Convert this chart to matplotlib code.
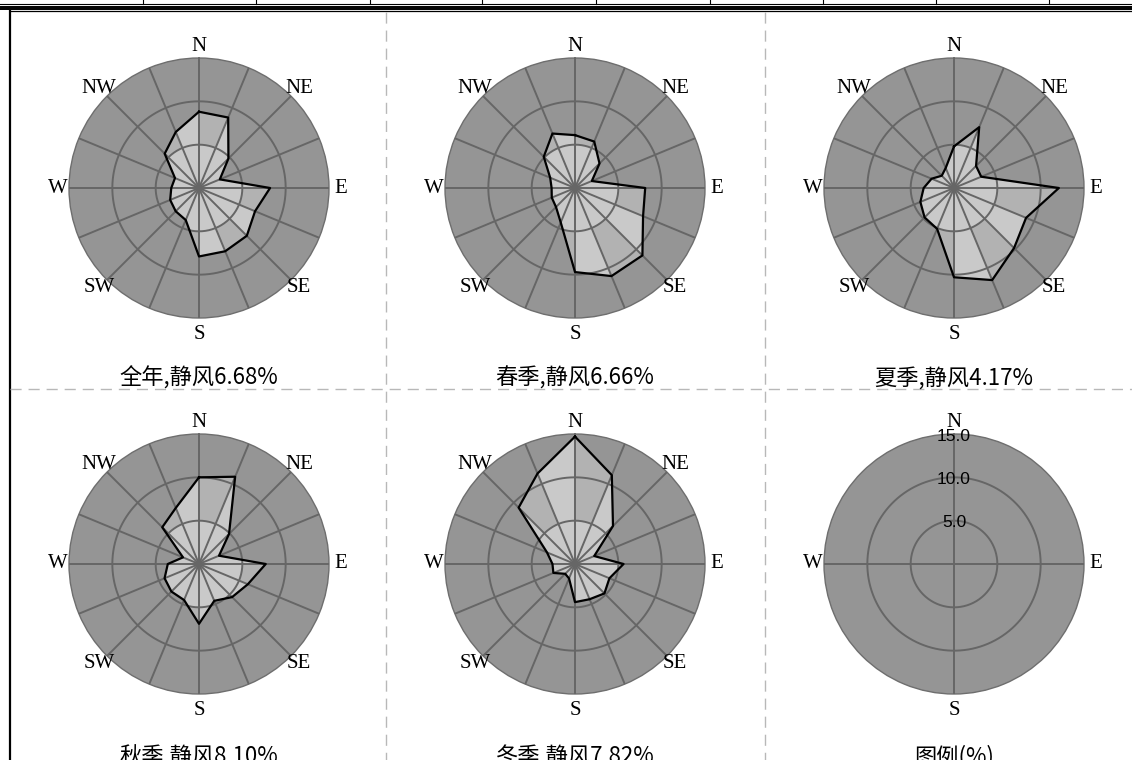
import numpy as np
import matplotlib
matplotlib.use('Agg')
import matplotlib.pyplot as plt

# wind frequency (%) for 16 directions, clockwise from N
dirs = ['N', 'NNE', 'NE', 'ENE', 'E', 'ESE', 'SE', 'SSE',
        'S', 'SSW', 'SW', 'WSW', 'W', 'WNW', 'NW', 'NNW']
annual = [8.8, 8.8, 4.8, 2.6, 8.2, 7.0, 7.8, 7.9, 7.9, 4.0, 3.8, 3.6, 3.2, 3.0, 5.6, 7.0]
spring = [6.1, 5.8, 4.0, 2.1, 8.1, 8.5, 11.0, 11.0, 9.7, 4.3, 3.1, 2.9, 2.7, 3.1, 5.1, 6.8]
summer = [4.8, 7.6, 3.6, 3.4, 12.1, 9.0, 9.8, 11.5, 10.3, 5.1, 4.8, 4.2, 3.5, 2.8, 2.0, 2.5]
autumn = [10.0, 10.9, 4.9, 2.5, 7.7, 6.1, 5.4, 4.6, 6.9, 4.5, 4.5, 4.3, 3.6, 2.0, 6.0, 7.0]
winter = [14.7, 11.1, 6.2, 2.4, 5.6, 4.3, 4.8, 4.4, 4.4, 1.8, 1.6, 2.7, 2.6, 3.5, 9.2, 11.3]
titles = ['全年,静风6.68%', '春季,静风6.66%', '夏季,静风4.17%',
          '秋季,静风8.10%', '冬季,静风7.82%', '图例(%)']
ring_vals = [5, 10, 15]
ring_labels = ['5.0', '10.0', '15.0']

W, H = 1132, 760
R = 130
fig = plt.figure(figsize=(W / 100, H / 100), dpi=100)
bg = fig.add_axes([0, 0, 1, 1])
bg.set_xlim(0, W)
bg.set_ylim(H, 0)
bg.axis('off')

# table rules at the top, frame, dashed separators
bg.plot([0, W], [3.5, 3.5], color='k', lw=0.8)
for x in [143, 256, 370, 482, 596, 710, 823, 936, 1049]:
    bg.plot([x, x], [0, 3.5], color='k', lw=0.8)
bg.plot([0, W], [6.5, 6.5], color='k', lw=1.4)
bg.plot([0, W], [9.2, 9.2], color='k', lw=1.4)
bg.plot([9.5, W], [11.3, 11.3], color='k', lw=0.9)
bg.plot([9.5, 9.5], [11, H], color='k', lw=1.6)
for x in [386, 765]:
    bg.plot([x, x], [12, H], color='#b8b8b8', lw=1, dashes=(8, 5))
bg.plot([10, W], [389, 389], color='#b8b8b8', lw=1, dashes=(8, 5))

centers = [(199, 188), (575, 188), (954, 188), (199, 564), (575, 564), (954, 564)]
title_y = [378, 378, 378, 757, 757, 757]
series = [annual, spring, summer, autumn, winter, None]

th = np.deg2rad(np.arange(16) * 22.5)
ring_t = np.linspace(0, 2 * np.pi, 400)

for (cx, cy), ty, vals, title in zip(centers, title_y, series, titles):
    ax = fig.add_axes([(cx - R) / W, 1 - (cy + R) / H, 2 * R / W, 2 * R / H],
                      projection='polar')
    ax.set_theta_zero_location('N')
    ax.set_theta_direction(-1)
    ax.set_facecolor('#959595')
    ax.set_xticks([])
    ax.set_yticks([])
    ax.grid(False)
    ax.spines['polar'].set_color('#6e6e6e')
    ax.spines['polar'].set_linewidth(1.0)

    if vals is not None:
        tc = np.append(th, th[0])
        rc = np.append(vals, vals[0])
        poly = ax.fill(tc, rc, facecolor='#c9c9c9', edgecolor='none', zorder=2)[0]
        bars = ax.bar(th[::2] + np.deg2rad(11.25), 10, width=np.deg2rad(22.5),
                      bottom=5, color='#b2b2b2', zorder=2.5)
        for b in bars:
            b.set_clip_path(poly)
        ax.plot(tc, rc, color='k', lw=1.6, zorder=4)
        spokes = th
        labs = {0: 'N', 2: 'NE', 4: 'E', 6: 'SE', 8: 'S', 10: 'SW', 12: 'W', 14: 'NW'}
    else:
        spokes = th[::4]
        labs = {0: 'N', 4: 'E', 8: 'S', 12: 'W'}

    for t in spokes:
        ax.plot([t, t], [0, 15], color='#666666', lw=1.4, zorder=3)
    for r in ring_vals[:-1]:
        ax.plot(ring_t, np.full_like(ring_t, r), color='#666666', lw=1.4, zorder=3)
    ax.set_ylim(0, 15)

    for i, s in labs.items():
        rr = 16.9 if s == 'S' else 16.3
        ax.text(th[i], rr, s, ha='center', va='center', fontsize=15,
                family='Liberation Serif', clip_on=False, zorder=6)

    if vals is None:
        for r, s in zip(ring_vals, ring_labels):
            ax.text(0, r - 0.25, s, ha='center', va='center', fontsize=12.5,
                    family='Liberation Sans', clip_on=False, zorder=6)

    bg.text(cx, ty, title, ha='center', va='center', fontsize=16,
            fontweight='light', family=['Noto Sans CJK SC', 'DejaVu Sans'])

fig.savefig('out.png', dpi=100)
